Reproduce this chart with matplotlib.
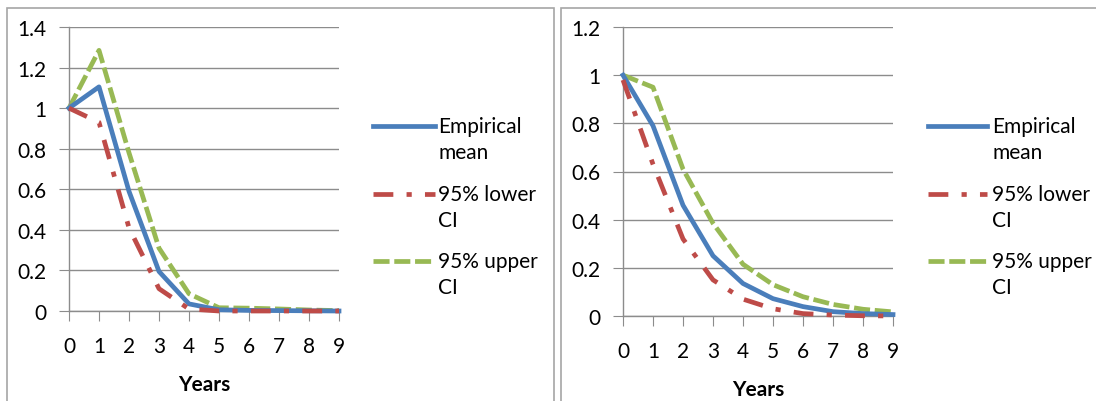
import matplotlib
matplotlib.use("Agg")
import matplotlib.pyplot as plt
from matplotlib.patches import Rectangle
from matplotlib.lines import Line2D

plt.rcParams['font.family'] = ['Lato', 'DejaVu Sans']

years = [0, 1, 2, 3, 4, 5, 6, 7, 8, 9]

left_mean = [1.0, 1.105, 0.59, 0.195, 0.035, 0.006, 0.003, 0.002, 0.001, 0.0]
left_lower = [1.0, 0.93, 0.41, 0.11, 0.01, 0.0, 0.0, 0.0, 0.0, 0.0]
left_upper = [1.0, 1.285, 0.78, 0.31, 0.085, 0.016, 0.014, 0.01, 0.005, 0.002]

right_mean = [1.0, 0.79, 0.46, 0.25, 0.135, 0.072, 0.039, 0.018, 0.01, 0.006]
right_lower = [0.98, 0.63, 0.32, 0.15, 0.07, 0.03, 0.01, 0.004, 0.001, 0.0]
right_upper = [1.0, 0.95, 0.61, 0.385, 0.215, 0.13, 0.08, 0.048, 0.028, 0.017]

series_labels = [("Empirical", "mean"), ("95% lower", "CI"), ("95% upper", "CI")]
colors = ["#4a7ebb", "#be4b48", "#98b954"]

left_yticks = [0, 0.2, 0.4, 0.6, 0.8, 1.0, 1.2, 1.4]
left_yticklabels = ["0", "0.2", "0.4", "0.6", "0.8", "1", "1.2", "1.4"]
right_yticks = [0, 0.2, 0.4, 0.6, 0.8, 1.0, 1.2]
right_yticklabels = ["0", "0.2", "0.4", "0.6", "0.8", "1", "1.2"]

W, H = 1096, 402
fig = plt.figure(figsize=(W / 100, H / 100), dpi=100)


def fx(px):
    return px / W


def fy(py):
    return 1 - py / H


# panel borders
fig.patches.append(Rectangle((fx(7), -0.1), (554 - 7) / W, 1.1 - 9 / H, transform=fig.transFigure,
                             fill=False, edgecolor="#a6a6a6", linewidth=1.2))
fig.patches.append(Rectangle((fx(561), -0.1), (1110 - 561) / W, 1.1 - 9 / H, transform=fig.transFigure,
                             fill=False, edgecolor="#a6a6a6", linewidth=1.2))

grid_c = "#8c8c8c"
LW = 3.4
RED_DASH = (4.2, 2.8, 1.1, 2.8)
GREEN_DASH = (3.4, 1.0)
STYLES = [None, RED_DASH, GREEN_DASH]
FS = 15


def make_panel(rect, series, yticks, yticklabels, ymax, leg_x0, leg_x1, text_x):
    ax = fig.add_axes(rect)
    zorders = [3, 3, 2]
    for vals, c, d, z in zip(series, colors, STYLES, zorders):
        kw = {} if d is None else {"dashes": d}
        ln, = ax.plot(years, vals, color=c, lw=LW, zorder=z, **kw)
        ln.set_clip_on(False)
    ax.set_xlim(0, 9)
    ax.set_ylim(0, ymax)
    ax.set_xticks(years)
    ax.set_xticklabels([str(y) for y in years], fontsize=FS)
    ax.set_yticks(yticks)
    ax.set_yticklabels(yticklabels, fontsize=FS)
    ax.grid(axis="y", color=grid_c, lw=1.0)
    ax.set_axisbelow(True)
    for s in ["top", "right"]:
        ax.spines[s].set_visible(False)
    for s in ["left", "bottom"]:
        ax.spines[s].set_color(grid_c)
        ax.spines[s].set_linewidth(1.0)
    ax.tick_params(axis="x", length=7, color=grid_c, pad=11)
    ax.tick_params(axis="y", length=7, color=grid_c, pad=9)
    ax.set_xlabel("Years", fontsize=FS, fontweight="bold", labelpad=13)

    # legend: handle aligned with first text line
    baselines = [133, 201, 268]
    for (l1, l2), c, d, b in zip(series_labels, colors, STYLES, baselines):
        kw = {} if d is None else {"dashes": d}
        fig.add_artist(Line2D([fx(leg_x0), fx(leg_x1)], [fy(b - 6.5), fy(b - 6.5)],
                              transform=fig.transFigure, color=c, lw=LW, **kw))
        fig.text(fx(text_x), fy(b), l1, fontsize=FS, va="baseline", ha="left")
        fig.text(fx(text_x), fy(b + 26.5), l2, fontsize=FS, va="baseline", ha="left")
    return ax


make_panel([fx(69), fy(312), 270 / W, 284 / H], [left_mean, left_lower, left_upper],
           left_yticks, left_yticklabels, 1.4, 373, 435, 438)
make_panel([fx(623), fy(317), 270 / W, 289 / H], [right_mean, right_lower, right_upper],
           right_yticks, right_yticklabels, 1.2, 928, 987, 992)

fig.savefig("out.png", dpi=100)
